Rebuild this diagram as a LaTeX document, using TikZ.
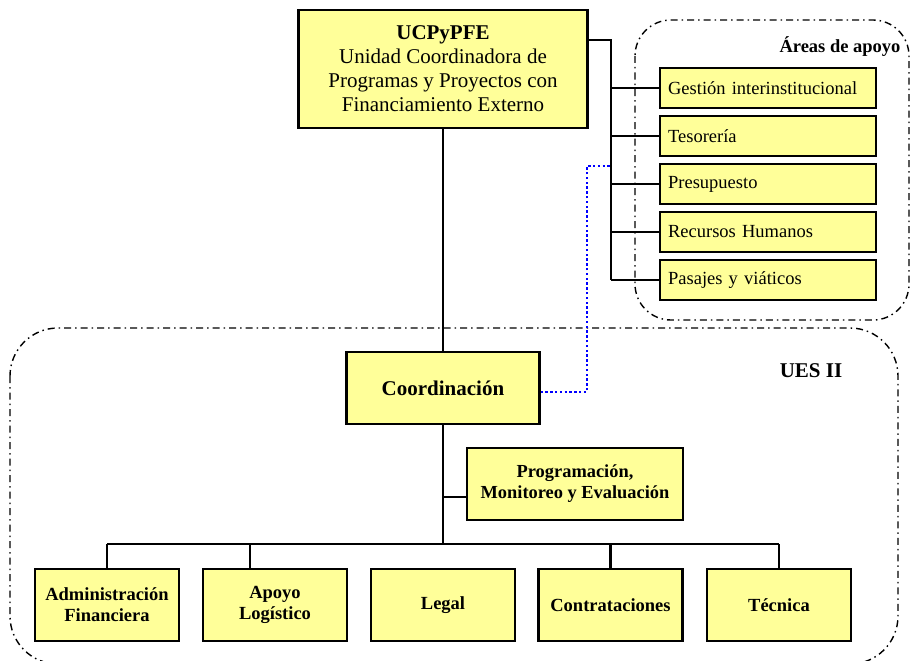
\documentclass[tikz,border=0pt]{standalone}
\usepackage{fontspec}
\setmainfont{Liberation Serif}
\begin{document}
\begin{tikzpicture}[x=1pt,y=-1pt,
  box/.style={draw=black, line width=2.2pt, fill=boxyellow, inner sep=4pt, align=center},
  rbox/.style={box, anchor=west, minimum height=40pt, text width=200pt, inner sep=8pt, align=left, font=\fontsize{18.5}{21}\selectfont},
  ubox/.style={box, minimum width=144pt, minimum height=72pt, font=\fontsize{18.5}{21}\selectfont\bfseries},
  link/.style={draw=black, line width=2.3pt},
  dotlink/.style={draw=linkblue, line width=2.4pt, dash pattern=on 2.4pt off 2.4pt},
  zone/.style={draw=black, line width=1.4pt, dash pattern=on 7pt off 4pt on 1.5pt off 4pt}
]
\definecolor{boxyellow}{RGB}{255,255,153}
\definecolor{linkblue}{RGB}{0,0,255}
\clip (0,0) rectangle (910,661);

% grouping frames
\draw[zone, rounded corners=36pt] (635,20) rectangle (909,320);
\draw[zone, rounded corners=48pt] (10,328) rectangle (898,664);
\node[anchor=east, font=\fontsize{18.5}{21}\selectfont\bfseries] (areas) at (904,47) {Áreas de apoyo};
\node[font=\fontsize{21}{24}\selectfont\bfseries] (ues) at (811,371) {UES II};

% top unit
\node[box, minimum width=289pt, minimum height=118pt, font=\fontsize{21}{24}\selectfont] (top) at (443,69)
  {\textbf{UCPyPFE}\\Unidad Coordinadora de\\Programas y Proyectos con\\Financiamiento Externo};

% support areas
\node[rbox] (gest) at (659,88) {Gestión interinstitucional};
\node[rbox] (teso) at (659,136) {Tesorería};
\node[rbox] (pres) at (659,184) {Presupuesto};
\node[rbox] (rrhh) at (659,232) {Recursos Humanos};
\node[rbox] (pasa) at (659,280) {Pasajes y viáticos};

% coordination and staff unit
\node[box, minimum width=193pt, minimum height=72pt, font=\fontsize{21}{24}\selectfont\bfseries] (coord) at (443,388) {Coordinación};
\node[box, minimum width=216pt, minimum height=72pt, font=\fontsize{18.4}{21}\selectfont\bfseries] (prog) at (575,484) {Programación,\\Monitoreo y Evaluación};

% operating units
\node[ubox] (admin) at (107,605) {Administración\\Financiera};
\node[ubox] (apoyo) at (275,605) {Apoyo\\Logístico};
\node[ubox] (legal) at (443,605) {Legal};
\node[ubox] (contr) at (610.5,605) {Contrataciones};
\node[ubox] (tecn) at (779,605) {Técnica};

% bus points
\coordinate (rbus) at (611,40);
\coordinate (bus) at (443,544);
\coordinate (progjoin) at (443,497);
\coordinate (apoyodrop) at (250,544);

% connectors: top unit to support areas
\draw[link] (top.east |- rbus) -- (rbus) -- (rbus |- pasa.west);
\foreach \n in {gest,teso,pres,rrhh,pasa}
  \draw[link] (rbus |- \n.west) -- (\n.west);

% main line
\draw[link] (top.south) -- (coord.north);
\draw[link] (coord.south) -- (bus);
\draw[link] (progjoin) -- (progjoin -| prog.west);

% bottom bus
\draw[link] (admin.north |- bus) -- (tecn.north |- bus);
\draw[link] (admin.north |- bus) -- (admin.north);
\draw[link] (apoyodrop) -- (apoyodrop |- apoyo.north);
\draw[link] (contr.north |- bus) -- (contr.north);
\draw[link] (tecn.north |- bus) -- (tecn.north);

% functional link from coordination to support areas
\coordinate (dotturn) at (587,392);
\draw[dotlink] (coord.east |- dotturn) -- (dotturn) -- (587,166) -- (rbus |- 0,166);
\end{tikzpicture}
\end{document}
